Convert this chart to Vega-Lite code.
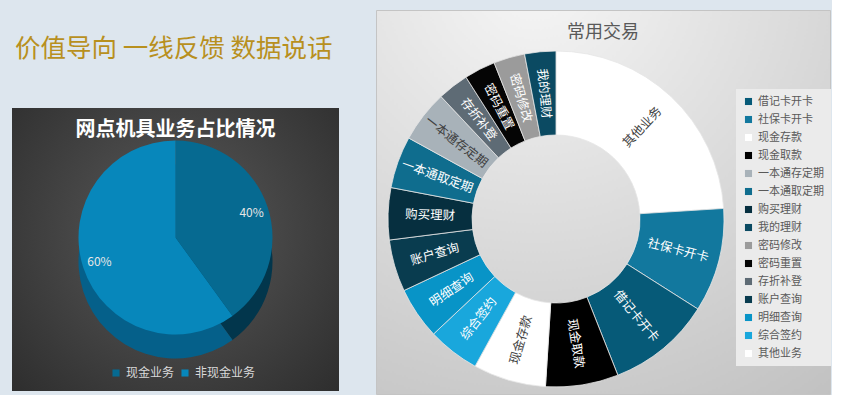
{
  "$schema": "https://vega.github.io/schema/vega-lite/v6.json",
  "background": "#dde6ee",
  "padding": {"left": 12, "top": 9, "right": 0, "bottom": 0},
  "config": {"font": "Noto Sans CJK SC"},
  "spacing": 36,
  "resolve": {"scale": {"color": "independent"}, "legend": {"color": "independent"}},
  "hconcat": [
    {
      "spacing": 0,
      "vconcat": [
        {
          "width": 327,
          "height": 98,
          "view": {"stroke": null, "fill": null},
          "data": {"values": []},
          "mark": {"type": "rect", "opacity": 0},
          "encoding": {},
          "title": {"text": "价值导向 一线反馈 数据说话", "anchor": "start", "orient": "top", "offset": -52, "fontSize": 25.5, "fontWeight": "normal", "color": "#b8901e", "dx": 3}
        },
        {
          "width": 327,
          "height": 283,
          "view": {"stroke": null, "fill": {"gradient": "radial", "x1": 0.5, "y1": 0.45, "r1": 0, "x2": 0.5, "y2": 0.45, "r2": 0.75, "stops": [{"offset": 0, "color": "#5a5a5a"}, {"offset": 1, "color": "#2a2a2a"}]}},
          "title": {"text": "网点机具业务占比情况", "anchor": "middle", "offset": -32, "fontSize": 20, "fontWeight": "bold", "color": "#ffffff"},
          "data": {"values": [{"type": "现金业务", "share": 0.4}, {"type": "非现金业务", "share": 0.6}]},
          "transform": [{"window": [{"op": "row_number", "as": "idx"}]}],
          "layer": [
            {
              "mark": {"type": "arc", "radius": 97, "yOffset": 12},
              "encoding": {
                "theta": {"field": "share", "type": "quantitative", "stack": true},
                "order": {"field": "idx"},
                "color": {"condition": {"test": "datum.type === '现金业务'", "value": "#02364c"}, "value": "#05608a"}
              }
            },
            {
              "mark": {"type": "arc", "radius": 97, "yOffset": -12},
              "encoding": {
                "theta": {"field": "share", "type": "quantitative", "stack": true},
                "order": {"field": "idx"},
                "color": {
                  "field": "type", "type": "nominal", "sort": ["现金业务", "非现金业务"],
                  "scale": {"domain": ["现金业务", "非现金业务"], "range": ["#066a91", "#0787bb"]},
                  "legend": {"title": null, "orient": "none", "legendX": 98, "legendY": 357, "direction": "horizontal", "symbolType": "square", "symbolSize": 50, "symbolStrokeWidth": 0, "labelColor": "#d9d9d9", "labelFontSize": 12, "columnPadding": 4}
                }
              }
            },
            {
              "mark": {"type": "text", "radius": 80, "yOffset": -12, "fontSize": 12, "color": "#e6e6e6"},
              "encoding": {
                "theta": {"field": "share", "type": "quantitative", "stack": true},
                "order": {"field": "idx"},
                "text": {"field": "share", "type": "quantitative", "format": ".0%"}
              }
            }
          ]
        }
      ]
    },
    {
      "width": 454,
      "height": 384,
      "view": {"stroke": "#c4c4c4", "fill": {"gradient": "radial", "x1": 0.35, "y1": 0, "r1": 0, "x2": 0.35, "y2": 0, "r2": 1.15, "stops": [{"offset": 0, "color": "#f6f6f6"}, {"offset": 1, "color": "#c0c0c0"}]}},
      "title": {"text": "常用交易", "anchor": "middle", "offset": -32, "fontSize": 18, "fontWeight": "normal", "color": "#595959"},
      "data": {"values": [
        {"name": "其他业务", "value": 24},
        {"name": "社保卡开卡", "value": 10},
        {"name": "借记卡开卡", "value": 10},
        {"name": "现金取款", "value": 7},
        {"name": "现金存款", "value": 7},
        {"name": "综合签约", "value": 5},
        {"name": "明细查询", "value": 5},
        {"name": "账户查询", "value": 5},
        {"name": "购买理财", "value": 5},
        {"name": "一本通取定期", "value": 5},
        {"name": "一本通存定期", "value": 5},
        {"name": "存折补登", "value": 3},
        {"name": "密码重置", "value": 3},
        {"name": "密码修改", "value": 3},
        {"name": "我的理财", "value": 3}
      ]},
      "transform": [
        {"window": [{"op": "row_number", "as": "idx"}]},
        {"joinaggregate": [{"op": "sum", "field": "value", "as": "total"}]},
        {"window": [{"op": "sum", "field": "value", "as": "cum"}], "sort": [{"field": "idx"}], "frame": [null, 0]},
        {"calculate": "(datum.cum - datum.value / 2) / datum.total * 360", "as": "mid"},
        {"calculate": "datum.mid < 180 ? datum.mid - 90 : datum.mid - 270", "as": "rot"}
      ],
      "layer": [
        {
          "mark": {"type": "arc", "radius": 168, "radius2": 84, "xOffset": -47, "yOffset": 17, "stroke": "#e6e6e6", "strokeWidth": 0.8},
          "encoding": {
            "theta": {"field": "value", "type": "quantitative", "stack": true},
            "order": {"field": "idx"},
            "color": {
              "field": "name", "type": "nominal",
              "sort": ["借记卡开卡", "社保卡开卡", "现金存款", "现金取款", "一本通存定期", "一本通取定期", "购买理财", "我的理财", "密码修改", "密码重置", "存折补登", "账户查询", "明细查询", "综合签约", "其他业务"],
              "scale": {
                "domain": ["借记卡开卡", "社保卡开卡", "现金存款", "现金取款", "一本通存定期", "一本通取定期", "购买理财", "我的理财", "密码修改", "密码重置", "存折补登", "账户查询", "明细查询", "综合签约", "其他业务"],
                "range": ["#065a78", "#12789e", "#ffffff", "#000000", "#a8b2b9", "#0f6d8e", "#062f3f", "#0b4a62", "#9b9b9b", "#050505", "#5e6b75", "#093c4f", "#0894c7", "#19a7dc", "#ffffff"]
              },
              "legend": {"title": null, "orient": "none", "legendX": 360, "legendY": 79, "symbolType": "square", "symbolSize": 50, "symbolStrokeWidth": 0, "labelFontSize": 11, "labelColor": "#595959", "rowPadding": 6, "padding": 7, "fillColor": "#ebebeb"}
            }
          }
        },
        {
          "mark": {"type": "text", "radius": 126, "xOffset": -47, "yOffset": 17, "fontSize": 12.5},
          "encoding": {
            "theta": {"field": "value", "type": "quantitative", "stack": true},
            "order": {"field": "idx"},
            "text": {"field": "name"},
            "angle": {"field": "rot", "type": "quantitative", "scale": null},
            "color": {"condition": {"test": "indexof(['其他业务','现金存款','一本通存定期'], datum.name) >= 0", "value": "#3f3f3f"}, "value": "#ffffff"}
          }
        }
      ]
    }
  ]
}
